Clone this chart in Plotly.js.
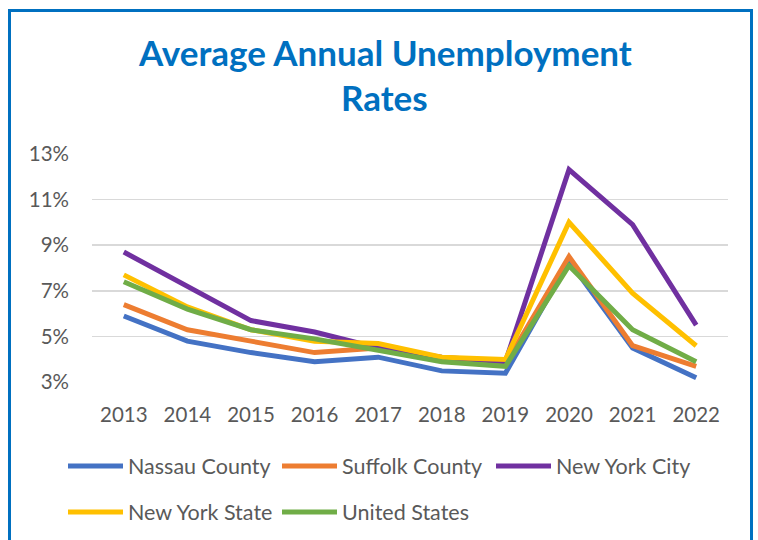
<!DOCTYPE html>
<html>
<head>
<meta charset="utf-8">
<script src="https://cdn.plot.ly/plotly-3.0.1.min.js"></script>
<style>
  html, body { margin: 0; padding: 0; background: #fff; }
  #wrap { position: relative; width: 758px; height: 540px; overflow: hidden; }
  #chart { width: 758px; height: 540px; }
  #frame { position: absolute; left: 8px; top: 9px; width: 739px; height: 600px;
           border: 3px solid #0070C0; border-bottom: none; pointer-events: none; }
</style>
</head>
<body>
<div id="wrap">
  <div id="chart"></div>
  <div id="frame"></div>
</div>
<script>
const years = ['2013','2014','2015','2016','2017','2018','2019','2020','2021','2022'];
const nassau   = [5.9, 4.8, 4.3, 3.9, 4.1, 3.5, 3.4, 8.3, 4.5, 3.2];
const suffolk  = [6.4, 5.3, 4.8, 4.3, 4.5, 4.0, 3.8, 8.5, 4.6, 3.7];
const nyc      = [8.7, 7.2, 5.7, 5.2, 4.5, 4.1, 3.9, 12.3, 9.9, 5.5];
const nys      = [7.7, 6.3, 5.3, 4.8, 4.7, 4.1, 4.0, 10.0, 6.9, 4.6];
const us       = [7.4, 6.2, 5.3, 4.9, 4.4, 3.9, 3.7, 8.1, 5.3, 3.9];
const seriesNames = ['Nassau County','Suffolk County','New York City','New York State','United States'];
const titleLines = ['Average Annual Unemployment', 'Rates'];
const tickVals = [3,5,7,9,11,13];
const tickText = ['3%','5%','7%','9%','11%','13%'];

const colors = ['#4472C4','#ED7D31','#7030A0','#FFC000','#70AD47'];
const data = [nassau, suffolk, nyc, nys, us];
const legendsFor = ['legend','legend','legend','legend2','legend2'];

const traces = data.map((vals, i) => ({
  type: 'scatter', mode: 'lines',
  x: years, y: vals, name: seriesNames[i],
  line: { color: colors[i], width: 5 },
  legend: legendsFor[i],
  hoverinfo: 'skip'
}));

const fontFam = 'Lato, "Noto Sans", sans-serif';
const legendBase = {
  orientation: 'h', xref: 'paper', yref: 'paper',
  xanchor: 'left', yanchor: 'middle',
  font: { family: fontFam, size: 21.5, color: '#595959' },
  entrywidth: 144, entrywidthmode: 'pixels',
  itemwidth: 55, bgcolor: 'rgba(0,0,0,0)', borderwidth: 0,
  traceorder: 'normal'
};

const titleFont = { family: fontFam, size: 35, color: '#0070C0' };

const layout = {
  width: 758, height: 540,
  paper_bgcolor: '#fff', plot_bgcolor: '#fff',
  margin: { l: 92, r: 30, t: 153, b: 157, autoexpand: false },
  annotations: [
    { text: '<b>' + titleLines[0] + '</b>', xref: 'paper', yref: 'paper', x: 0.46, y: 1 + (153 - 52) / 230,
      xanchor: 'center', yanchor: 'middle', showarrow: false, font: titleFont },
    { text: '<b>' + titleLines[1] + '</b>', xref: 'paper', yref: 'paper', x: 0.46, y: 1 + (153 - 97) / 230,
      xanchor: 'center', yanchor: 'middle', showarrow: false, font: titleFont }
  ],
  xaxis: {
    type: 'category', range: [-0.5, 9.5], showgrid: false, zeroline: false, showline: false,
    ticks: '', tickfont: { family: fontFam, size: 20.5, color: '#595959' },
    ticklabelstandoff: 17
  },
  yaxis: {
    range: [2.97, 13.03], tickvals: tickVals, ticktext: tickText,
    showgrid: true, gridcolor: '#D9D9D9', gridwidth: 1.5,
    zeroline: false, showline: false, ticks: '',
    tickfont: { family: fontFam, size: 20.5, color: '#595959' },
    ticklabelstandoff: 22
  },
  legend: Object.assign({}, legendBase, { x: (63 - 92) / 636, y: (383 - 466) / 230 }),
  legend2: Object.assign({}, legendBase, { x: (63 - 92) / 636, y: (383 - 512) / 230 }),
  showlegend: true
};

Plotly.newPlot('chart', traces, layout, { staticPlot: true, displayModeBar: false });
</script>
</body>
</html>
